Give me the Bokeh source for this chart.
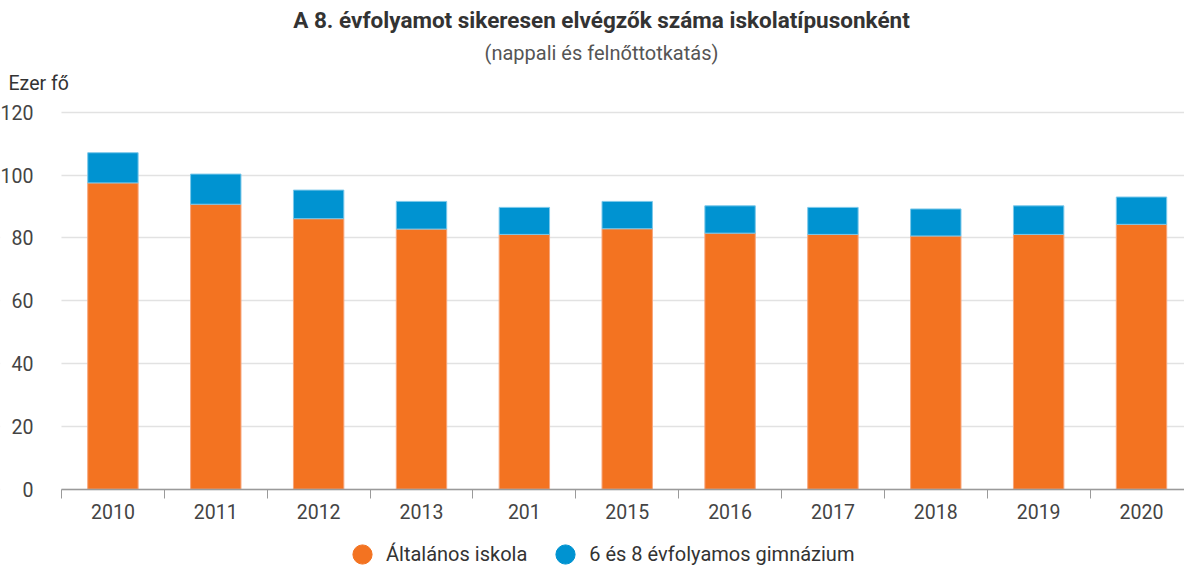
from bokeh.plotting import figure
from bokeh.models import (ColumnDataSource, FixedTicker, Label, Legend, LegendItem,
                          BoxAnnotation)
from bokeh.embed import file_html
from bokeh.resources import INLINE

years = ["2010", "2011", "2012", "2013", "201", "2015", "2016", "2017", "2018", "2019", "2020"]
altalanos = [97.5, 90.7, 86.1, 82.8, 81.1, 82.9, 81.5, 81.1, 80.6, 81.1, 84.3]
gimnazium = [9.6, 9.6, 9.1, 8.8, 8.6, 8.7, 8.7, 8.6, 8.6, 9.1, 8.7]
series_names = ["Általános iskola", "6 és 8 évfolyamos gimnázium"]
y_ticks = [0, 20, 40, 60, 80, 100, 120]
title_text = "A 8. évfolyamot sikeresen elvégzők száma iskolatípusonként"
subtitle_text = "(nappali és felnőttotkatás)"
unit_text = "Ezer fő"

ORANGE = "#F37321"
BLUE = "#0093D1"
FONT = "Roboto"

W, H = 1184, 567
xs = list(range(len(years)))
src = ColumnDataSource(dict(x=xs, alt=altalanos, gim=gimnazium))

# the frame fills the whole canvas; axes are pinned inside it
p = figure(width=W, height=H, x_range=(-1.093, 10.418), y_range=(-24.92, 155.55),
           output_backend="svg", toolbar_location=None, title=None,
           min_border=0, min_border_left=0, min_border_right=0,
           min_border_top=0, min_border_bottom=0)
p.outline_line_color = None
p.background_fill_color = "white"
p.border_fill_color = "white"

p.vbar_stack(["alt", "gim"], x="x", width=0.49, source=src,
             fill_color=[ORANGE, BLUE], line_color=["#F7A57A", "#7CC8EA"], line_width=1)

# x axis at y = 0
xa = p.xaxis[0]
xa.fixed_location = 0
xa.bounds = (-0.5, 11)
xa.ticker = FixedTicker(ticks=xs, minor_ticks=[i - 0.5 for i in range(len(years) + 1)])
xa.major_label_overrides = {i: y for i, y in enumerate(years)}
xa.major_tick_out = 0
xa.major_tick_in = 0
xa.minor_tick_out = 9
xa.minor_tick_in = 0
xa.minor_tick_line_color = "#9a9a9a"
xa.axis_line_color = "#9a9a9a"
xa.axis_line_width = 1.5
xa.major_label_standoff = 6
xa.major_label_text_font = FONT
xa.major_label_text_font_size = "19.5px"
xa.major_label_text_color = "#444444"

# y axis at left edge of the bar area
ya = p.yaxis[0]
ya.fixed_location = -0.5
ya.bounds = (0, 120)
ya.ticker = FixedTicker(ticks=y_ticks)
ya.axis_line_color = None
ya.major_tick_line_color = None
ya.minor_tick_line_color = None
ya.major_label_standoff = 22
ya.major_label_text_font = FONT
ya.major_label_text_font_size = "19.5px"
ya.major_label_text_color = "#444444"

p.xgrid.grid_line_color = None
p.ygrid.grid_line_color = "#e2e2e2"
p.ygrid.grid_line_width = 1.5

# hide grid lines left of the bar area (under the y labels)
p.add_layout(BoxAnnotation(right=-0.5, fill_color="white", fill_alpha=1,
                           line_alpha=0, level="glyph"))

# titles
p.add_layout(Label(x=4.75, y=149.2, text=title_text,
                   text_align="center", text_baseline="middle", text_font=FONT,
                   text_font_size="22.5px", text_font_style="bold", text_color="#333333"))
p.add_layout(Label(x=4.75, y=138.9, text=subtitle_text,
                   text_align="center", text_baseline="middle", text_font=FONT,
                   text_font_size="20px", text_color="#555555"))
p.add_layout(Label(x=-1.015, y=129.1, text=unit_text,
                   text_align="left", text_baseline="middle", text_font=FONT,
                   text_font_size="19.5px", text_color="#333333"))

# legend with circle markers (marker points lie outside the visible range)
l1 = p.scatter(x=[-50], y=[-500], marker="circle", fill_color=ORANGE, line_color=ORANGE)
l2 = p.scatter(x=[-50], y=[-500], marker="circle", fill_color=BLUE, line_color=BLUE)
legend = Legend(items=[LegendItem(label=series_names[0], renderers=[l1]),
                       LegendItem(label=series_names[1], renderers=[l2])],
                orientation="horizontal", location=(338, -11),
                glyph_width=48, glyph_height=48, label_standoff=0, spacing=14,
                padding=0, margin=0, border_line_color=None, background_fill_alpha=0,
                label_text_font=FONT, label_text_font_size="20px", label_text_color="#333333")
p.add_layout(legend, "center")

open("out.html", "w").write(file_html(p, INLINE))
